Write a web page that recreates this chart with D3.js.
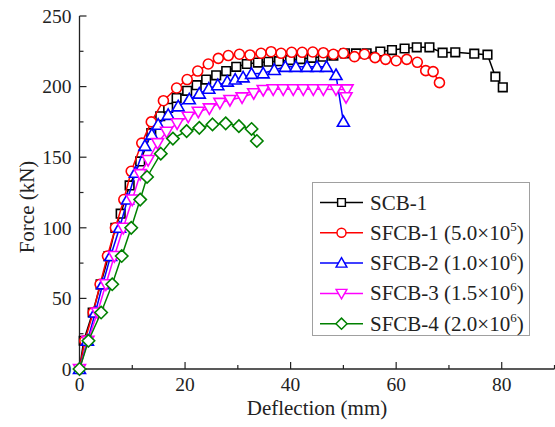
<!DOCTYPE html>
<html>
<head>
<meta charset="utf-8">
<script src="https://cdn.jsdelivr.net/npm/d3@7"></script>
<style>
  body { margin: 0; background: #fff; }
</style>
</head>
<body>
<svg id="chart" width="555" height="427" font-family="'Liberation Serif', 'Times New Roman', Times, serif"></svg>
<script>
// deflection (mm), force (kN) pairs
const scb1 = [[0,0],[0.8,20],[2.5,40],[4,60],[5.5,80],[6.8,100],[7.8,110],[9.5,130],[11.5,147],[13.6,167],[15.3,179],
  [16.8,185],[18.4,192],[20.4,197],[22.2,201],[24,205],[25.9,208],[27.8,211],[29.7,214],[31.7,216],[33.8,217],
  [35.8,217.6],[37.8,218],[39.9,218.8],[41.9,219.5],[44,220.4],[46.1,221.2],[48.1,222],[50.3,223.6],[52.4,223.5],
  [54.4,223.6],[57,224.8],[59.2,225.9],[61.6,227],[63.9,227.8],[66.3,227.8],[68.8,224],[71.2,224.3],[74.8,223.3],
  [77.3,222.6],[78.8,207],[80.2,199.5]];
const sfcb1 = [[0,0],[1,20],[2.6,40],[3.9,60],[5.3,80],[6.8,100],[8.4,120],[9.8,140],[11.8,160],[13.6,175],[15.9,190],
  [18.4,199],[20.4,205],[22.4,211],[24.4,216],[26.3,220],[28.2,222],[30.3,222.9],[32.3,222.4],[34.4,223.6],[36.3,224.7],
  [38.2,223.6],[40.2,224.3],[42.2,224.3],[44.2,224.5],[46.2,224],[48.1,222.9],[50,223.6],[52.1,221.2],[54,222.9],
  [56,220.5],[58,219.3],[60,218.3],[62,219.3],[64,217.2],[65.6,211.3],[67,210.6],[68.2,202.8]];
const sfcb2 = [[0,0],[1.5,20],[3,40],[4.4,60],[5.9,80],[7.6,100],[9.1,120],[10.6,139],[12.4,158],[13.7,166],[14.9,173],
  [16.8,180],[18.7,186],[20.8,191],[22.7,195],[24.5,198.5],[26.2,201],[28,203.5],[29.5,205],[31,206.5],[32.6,209],
  [34.8,209.4],[36.9,211.8],[39,214],[41,214],[43.1,214],[45,214],[46.8,214],[48.6,208.2],[50,175.1]];
const sfcb3 = [[0,0],[1.6,20],[3.4,40],[5,60],[6.6,80],[8.3,100],[10,120],[11.5,138],[13,148],[14.8,160],[16.5,168],
  [18.5,174],[20.6,178.7],[22.5,182.2],[24.6,184.6],[26.6,188.5],[28.5,190.5],[30.8,192.4],[33,195.3],[34.8,197.6],
  [36.7,198.1],[38.6,198.1],[40.5,198.1],[42.4,198.1],[44.3,198.1],[46.2,198.1],[48.6,198],[50.7,198],[50.5,192.5]];
const sfcb4 = [[0,0],[1.7,20],[4.1,40],[6.2,60],[8,80],[9.8,100],[11.5,120],[12.8,136],[15.4,152.5],[17.7,163.2],
  [20.3,168.5],[22.7,170.8],[25.2,173.2],[27.7,174],[30.2,172],[32.6,170],[33.6,161.5]];

const seriesNames = ["SCB-1", "SFCB-1 (5.0\u00d710", "SFCB-2 (1.0\u00d710", "SFCB-3 (1.5\u00d710", "SFCB-4 (2.0\u00d710"];
const seriesExp = ["", "5", "6", "6", "6"];
const seriesColors = ["#000000", "#ff0000", "#0000ff", "#ff00ff", "#008000"];
const seriesShapes = ["square", "circle", "triUp", "triDown", "diamond"];
const seriesData = [scb1, sfcb1, sfcb2, sfcb3, sfcb4];

const xTicks = [0, 20, 40, 60, 80];
const yTicks = [0, 50, 100, 150, 200, 250];

const svg = d3.select("#chart");
const x = d3.scaleLinear().domain([0, 90]).range([79.5, 554.5]);
const y = d3.scaleLinear().domain([0, 250]).range([369, 16]);

// marker path, centred on 0,0
function shapePath(kind) {
    if (kind === "square") return "M-4.3,-4.3h8.6v8.6h-8.6z";
    if (kind === "circle") return "M5,0A5,5 0 1,1 -5,0A5,5 0 1,1 5,0z";
    if (kind === "triUp") return "M0,-6L6,4.5L-6,4.5z";
    if (kind === "triDown") return "M0,6L6,-4.5L-6,-4.5z";
    return "M0,-6.2L6.2,0L0,6.2L-6.2,0z";
}

// axes, ticks pointing inward
const xAxis = svg.append("g").attr("transform", "translate(0,369)");
xAxis.append("line").attr("x1", x(0)).attr("x2", x(90)).attr("stroke", "#222").attr("stroke-width", 1.3);
xAxis.selectAll(".minor").data(d3.range(10, 91, 20)).enter().append("line")
    .attr("x1", d => x(d)).attr("x2", d => x(d)).attr("y1", 0).attr("y2", -4)
    .attr("stroke", "#222").attr("stroke-width", 1.2);
xAxis.selectAll(".major").data(xTicks).enter().append("line")
    .attr("x1", d => x(d)).attr("x2", d => x(d)).attr("y1", 0).attr("y2", -7)
    .attr("stroke", "#222").attr("stroke-width", 1.2);
xAxis.selectAll("text").data(xTicks).enter().append("text")
    .attr("x", d => x(d)).attr("y", 22).attr("text-anchor", "middle")
    .attr("font-size", 19.5).attr("fill", "#222").text(d => d);

const yAxis = svg.append("g").attr("transform", "translate(79.5,0)");
yAxis.append("line").attr("y1", y(0)).attr("y2", y(250)).attr("stroke", "#222").attr("stroke-width", 1.3);
yAxis.selectAll(".minor").data(d3.range(25, 250, 50)).enter().append("line")
    .attr("y1", d => y(d)).attr("y2", d => y(d)).attr("x1", 0).attr("x2", 4)
    .attr("stroke", "#222").attr("stroke-width", 1.2);
yAxis.selectAll(".major").data(yTicks).enter().append("line")
    .attr("y1", d => y(d)).attr("y2", d => y(d)).attr("x1", 0).attr("x2", 7)
    .attr("stroke", "#222").attr("stroke-width", 1.2);
yAxis.selectAll("text").data(yTicks).enter().append("text")
    .attr("x", -8).attr("y", d => y(d)).attr("dy", "0.35em").attr("text-anchor", "end")
    .attr("font-size", 19.5).attr("fill", "#222").text(d => d);

svg.append("text").attr("x", 317).attr("y", 415).attr("text-anchor", "middle")
    .attr("font-size", 21).attr("fill", "#222").text("Deflection (mm)");
svg.append("text").attr("transform", "translate(34,207) rotate(-90)").attr("text-anchor", "middle")
    .attr("font-size", 21).attr("fill", "#222").text("Force (kN)");

// curves
const line = d3.line().x(d => x(d[0])).y(d => y(d[1]));
seriesData.forEach(function (data, i) {
    const g = svg.append("g");
    g.append("path").attr("d", line(data)).attr("fill", "none")
        .attr("stroke", seriesColors[i]).attr("stroke-width", 1.5);
    g.selectAll("path.m").data(data).enter().append("path").attr("class", "m")
        .attr("d", shapePath(seriesShapes[i]))
        .attr("transform", d => "translate(" + x(d[0]) + "," + y(d[1]) + ")")
        .attr("fill", "#fff").attr("stroke", seriesColors[i]).attr("stroke-width", 1.6);
});

// legend
const legend = svg.append("g");
legend.append("rect").attr("x", 312.5).attr("y", 182.5).attr("width", 217).attr("height", 153)
    .attr("fill", "#fff").attr("stroke", "#a0a0a0").attr("stroke-width", 1);
seriesNames.forEach(function (name, i) {
    const cy = 202.5 + i * 30.3;
    legend.append("line").attr("x1", 320).attr("x2", 363).attr("y1", cy).attr("y2", cy)
        .attr("stroke", seriesColors[i]).attr("stroke-width", 1.5);
    legend.append("path").attr("d", shapePath(seriesShapes[i]))
        .attr("transform", "translate(341.5," + cy + ") scale(0.9)")
        .attr("fill", "#fff").attr("stroke", seriesColors[i]).attr("stroke-width", 1.6);
    const t = legend.append("text").attr("x", 370).attr("y", cy + 7).attr("font-size", 21).attr("fill", "#222");
    t.append("tspan").text(name);
    if (seriesExp[i]) {
        t.append("tspan").attr("dy", -9).attr("font-size", 13).text(seriesExp[i]);
        t.append("tspan").attr("dy", 9).text(")");
    }
});
</script>
</body>
</html>
